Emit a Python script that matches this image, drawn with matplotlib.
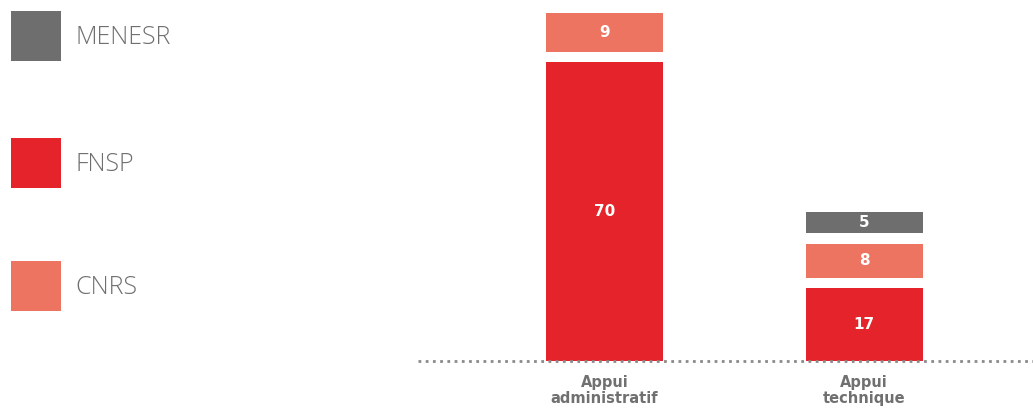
import numpy as np
import matplotlib
matplotlib.use("Agg")
import matplotlib.pyplot as plt
from matplotlib.patches import Rectangle

# Staff counts by funding body, per type of support
categories = ["Appui\nadministratif", "Appui\ntechnique"]
fnsp = [70, 17]
cnrs = [9, 8]
menesr = [0, 5]

series = [("FNSP", fnsp, "#e5232a"),
          ("CNRS", cnrs, "#ec7460"),
          ("MENESR", menesr, "#6e6e6e")]
legend_order = ["MENESR", "FNSP", "CNRS"]

W, H = 1033, 412
fig = plt.figure(figsize=(W / 100, H / 100), dpi=100)

# axes placed in pixel terms: baseline at y=361 from top, left edge at x=418
left, right = 418, 1033
base = 361
ax = fig.add_axes([left / W, (H - base) / H, (right - left) / W, base / H])
px_per_unit = 4.27
ax.set_ylim(0, base / px_per_unit)
step = 259.5
ax.set_xlim((left - 604.5) / step, (right - 604.5) / step)

x = np.arange(len(categories))
gap = 10.5 / px_per_unit
bottoms = np.zeros(len(categories))
for name, vals, color in series:
    for i, v in enumerate(vals):
        if v == 0:
            continue
        b = bottoms[i] + (gap if bottoms[i] > 0 else 0)
        ax.bar(x[i], v, width=117 / step, bottom=b, color=color, linewidth=0)
        ax.text(x[i], b + v / 2, str(v), ha="center", va="center",
                color="white", fontsize=11, fontweight="bold", family="DejaVu Sans")
        bottoms[i] = b + v

# dotted baseline
ax.axhline(0, color="#8a8a8a", linewidth=2, linestyle=(0, (1, 1.6)), clip_on=False)

for i, c in enumerate(categories):
    ax.text(x[i], -3.2, c, ha="center", va="top", color="#707070",
            fontsize=10.5, fontweight="bold", family="DejaVu Sans", linespacing=1.15)

for s in ax.spines.values():
    s.set_visible(False)
ax.set_xticks([])
ax.set_yticks([])
ax.patch.set_visible(False)

# legend squares on the left, drawn in figure pixels
colors = {n: c for n, _, c in series}
legend_tops = [11, 138, 261]
for name, top in zip(legend_order, legend_tops):
    fig.add_artist(Rectangle((11 / W, (H - top - 50) / H), 50 / W, 50 / H,
                             transform=fig.transFigure, color=colors[name], linewidth=0))
    fig.text(75 / W, (H - top - 26) / H, name, ha="left", va="center",
             color="#6f6f6f", fontsize=18, fontweight="light", family="Open Sans")

fig.savefig("out.png", dpi=100)
